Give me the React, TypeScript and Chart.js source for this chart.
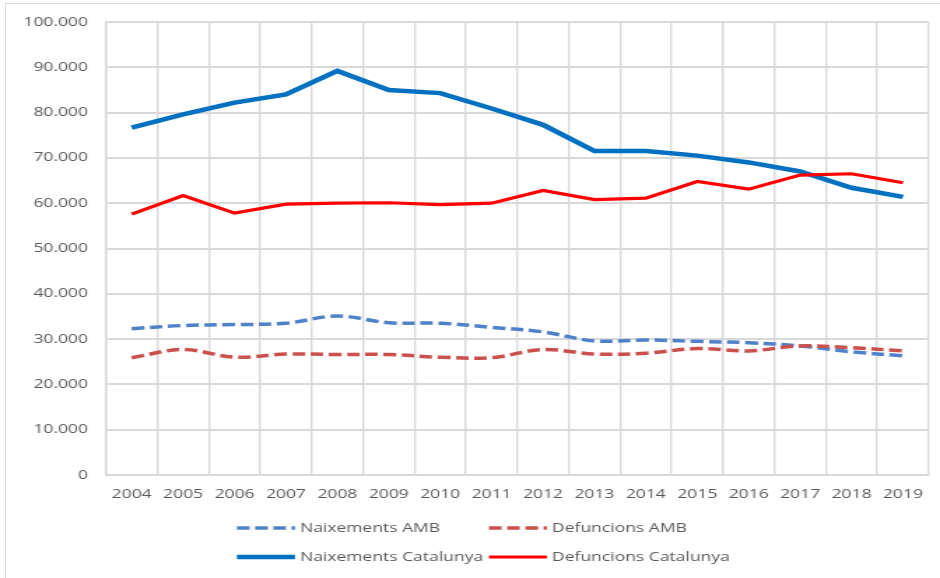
import React, { useEffect, useRef } from "react";
import { Chart, registerables } from "chart.js";

Chart.register(...registerables);

// ---- data ----
const years = ["2004", "2005", "2006", "2007", "2008", "2009", "2010", "2011", "2012", "2013", "2014", "2015", "2016", "2017", "2018", "2019"];
const naixementsAMB = [32300, 33000, 33200, 33500, 35100, 33600, 33500, 32600, 31600, 29600, 29800, 29500, 29200, 28500, 27200, 26300];
const defuncionsAMB = [25900, 27700, 26000, 26700, 26600, 26600, 26000, 25900, 27700, 26700, 26900, 27900, 27400, 28500, 28100, 27400];
const naixementsCatalunya = [76700, 79600, 82200, 84000, 89200, 85000, 84300, 80900, 77300, 71500, 71500, 70500, 69000, 67000, 63400, 61400];
const defuncionsCatalunya = [57600, 61700, 57800, 59800, 60000, 60100, 59700, 60000, 62800, 60800, 61100, 64800, 63100, 66200, 66500, 64500];
const seriesLabels = ["Naixements AMB", "Defuncions AMB", "Naixements Catalunya", "Defuncions Catalunya"];
const yMin = 0;
const yMax = 100000;
const yStep = 10000;

// ---- layout (css px) ----
const CSS_W = 940;
const CSS_H = 578;
const INT_W = 672;
const SX = CSS_W / INT_W; // horizontal stretch
const ix = (css: number) => css / SX;

const TEXT = "#595959";
const GRID = "#D9D9D9";
const FONT = "'Open Sans', 'Liberation Sans', sans-serif";
const FONT_SIZE = 12.5;

const fmt = (v: number) => String(v).replace(/\B(?=(\d{3})+(?!\d))/g, ".");

const legendPlugin = {
  id: "gridLegend",
  afterDraw(chart: any) {
    const ctx = chart.ctx as CanvasRenderingContext2D;
    const cols = [237, 489];
    const rows = [528, 557];
    chart.data.datasets.forEach((ds: any, i: number) => {
      const x0 = ix(cols[i % 2]);
      const y = rows[Math.floor(i / 2)];
      ctx.save();
      ctx.strokeStyle = ds.borderColor;
      ctx.lineWidth = ds.borderWidth;
      ctx.setLineDash(ds.borderDash || []);
      ctx.beginPath();
      ctx.moveTo(x0, y);
      ctx.lineTo(x0 + ix(58), y);
      ctx.stroke();
      ctx.setLineDash([]);
      ctx.fillStyle = TEXT;
      ctx.font = `${FONT_SIZE}px ${FONT}`;
      ctx.textAlign = "left";
      ctx.textBaseline = "middle";
      ctx.fillText(ds.label, x0 + ix(63), y);
      ctx.restore();
    });
  },
};

export default function App() {
  const ref = useRef<HTMLCanvasElement | null>(null);

  useEffect(() => {
    if (!ref.current) return;
    const chart = new Chart(ref.current, {
      type: "line",
      data: {
        labels: years,
        datasets: [
          {
            label: seriesLabels[0],
            data: naixementsAMB,
            borderColor: "#4F81C8",
            borderWidth: 3.5,
            borderDash: [9, 4],
            tension: 0.35,
            pointRadius: 0,
            order: 3,
          },
          {
            label: seriesLabels[1],
            data: defuncionsAMB,
            borderColor: "#C9504D",
            borderWidth: 3.5,
            borderDash: [9, 4],
            tension: 0.35,
            pointRadius: 0,
            order: 2,
          },
          {
            label: seriesLabels[2],
            data: naixementsCatalunya,
            borderColor: "#0070C0",
            borderWidth: 4.5,
            tension: 0,
            pointRadius: 0,
            order: 1,
          },
          {
            label: seriesLabels[3],
            data: defuncionsCatalunya,
            borderColor: "#FF0000",
            borderWidth: 3.2,
            tension: 0,
            pointRadius: 0,
            order: 0,
          },
        ],
      },
      options: {
        responsive: false,
        animation: false,
        devicePixelRatio: 1,
        layout: { padding: { top: 22, left: 0, right: INT_W - ix(931), bottom: CSS_H - 475 - 30 } },
        plugins: {
          legend: { display: false },
          tooltip: { enabled: false },
          title: { display: false },
        },
        scales: {
          x: {
            offset: true,
            grid: { offset: true, color: GRID, lineWidth: 1.4, drawTicks: false },
            border: { display: true, color: GRID, width: 2 },
            ticks: { color: TEXT, font: { family: FONT, size: FONT_SIZE }, padding: 12, maxRotation: 0, autoSkip: false },
            afterFit(scale: any) {
              scale.height = 30;
            },
          },
          y: {
            min: yMin,
            max: yMax,
            grid: { color: GRID, lineWidth: 2, drawTicks: false },
            border: { display: true, color: GRID, width: 1.4 },
            ticks: {
              stepSize: yStep,
              color: TEXT,
              font: { family: FONT, size: FONT_SIZE },
              padding: ix(18),
              callback: (v: any) => fmt(Number(v)),
            },
            afterFit(scale: any) {
              scale.width = ix(106);
            },
          },
        },
      },
      plugins: [legendPlugin],
    });
    return () => chart.destroy();
  }, []);

  return (
    <div style={{ position: "absolute", left: 0, top: 0, width: CSS_W, height: CSS_H, background: "#fff", overflow: "hidden" }}>
      <div
        style={{
          position: "absolute",
          left: 5,
          top: 3,
          width: CSS_W,
          height: CSS_H,
          borderLeft: "1.5px solid #D9D9D9",
          borderTop: "1.5px solid #D9D9D9",
        }}
      />
      <canvas
        ref={ref}
        width={INT_W}
        height={CSS_H}
        style={{ position: "absolute", left: 0, top: 0, width: CSS_W, height: CSS_H }}
      />
    </div>
  );
}
